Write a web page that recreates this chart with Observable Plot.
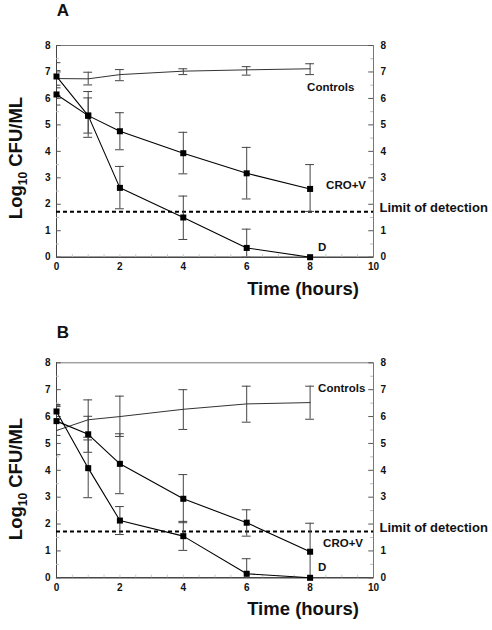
<!DOCTYPE html>
<html><head><meta charset="utf-8">
<script src="https://cdn.jsdelivr.net/npm/d3@7"></script>
<script src="https://cdn.jsdelivr.net/npm/@observablehq/plot@0.6"></script>
<style>body{margin:0;background:#fff;} svg{display:block}</style>
</head><body><div id="chart"></div>
<script>
// ---- data ----
const hours = [0, 1, 2, 4, 6, 8];
const xTicks = [0, 2, 4, 6, 8, 10];
const yTicks = [0, 1, 2, 3, 4, 5, 6, 7, 8];
const yTicksRight = [0, 1, 3, 4, 5, 6, 7, 8]; // "2" is covered by the limit label
const detectionLimit = 1.72;
const seriesNames = ["Controls", "CRO+V", "D"];

// Panel A
const ctrlA   = [6.75, 6.74, 6.90, 7.03, 7.08, 7.12];
const ctrlAhi = [7.35, 6.99, 7.09, 7.12, 7.20, 7.31];
const ctrlAlo = [6.10, 6.51, 6.67, 6.90, 6.88, 6.90];
const croA    = [6.15, 5.35, 4.76, 3.93, 3.17, 2.58];
const croAhi  = [6.40, 6.26, 5.46, 4.72, 4.15, 3.50];
const croAlo  = [5.75, 4.53, 4.06, 3.15, 2.20, 1.73];
const dA      = [6.83, 5.35, 2.62, 1.50, 0.35, 0];
const dAhi    = [7.05, 6.02, 3.43, 2.31, 1.06, 0];
const dAlo    = [6.50, 4.69, 1.83, 0.67, 0, 0];

// Panel B
const ctrlB   = [5.48, 5.88, 6.00, 6.27, 6.47, 6.52];
const ctrlBhi = [6.40, 6.62, 6.76, 7.00, 7.13, 7.13];
const ctrlBlo = [4.58, 5.13, 5.26, 5.52, 5.79, 5.90];
const croB    = [5.83, 5.34, 4.24, 2.94, 2.05, 0.97];
const croBhi  = [6.37, 6.01, 5.36, 3.84, 2.53, 2.03];
const croBlo  = [5.30, 4.67, 3.13, 2.05, 1.55, 0];
const dB      = [6.19, 4.08, 2.13, 1.55, 0.15, 0];
const dBhi    = [6.45, 5.23, 2.65, 2.10, 0.71, 0];
const dBlo    = [5.90, 2.98, 1.61, 1.02, 0, 0];

// ---- drawing ----
const font = "'Liberation Sans', Arial, Helvetica, sans-serif";
const yMinor = d3.range(0.5, 8, 1);
const xMinor = d3.range(0.5, 10, 0.5);

function makeRows(series, v, hi, lo) {
  return hours.map((t, i) => ({series, t, v: v[i], hi: hi[i], lo: lo[i]}));
}

function panelPlot({height, marginTop, marginBottom, data, labelOffsets}) {
  const treat = data.filter(d => d.series !== "Controls");
  const bars = data.filter(d => d.hi > d.lo);
  const labelMarks = seriesNames.map(sn => {
    const r = data.filter(d => d.series === sn).at(-1);
    return Plot.text([r], {x: "t", y: "v", text: "series", dx: labelOffsets[sn][0], dy: labelOffsets[sn][1], textAnchor: "start", fontSize: 11.5, fill: "#111"});
  });
  return Plot.plot({
    width: 492, height, marginLeft: 56, marginRight: 119, marginTop, marginBottom,
    x: {domain: [0, 10]},
    y: {domain: [0, 8]},
    style: {fontFamily: font, fontWeight: "bold", fontSize: "10px", color: "#111", background: "white", overflow: "visible"},
    marks: [
      Plot.frame({stroke: "#777"}),
      Plot.ruleY([0], {stroke: "#222"}),
      Plot.ruleX([0], {stroke: "#444"}),
      Plot.ruleY(yTicks, {y: d => d, x1: 0, x2: 0.15, stroke: "#555"}),
      Plot.ruleY(yTicks, {y: d => d, x1: 9.85, x2: 10, stroke: "#555"}),
      Plot.ruleY(yMinor, {y: d => d, x1: 0, x2: 0.09, stroke: "#bbb"}),
      Plot.ruleY(yMinor, {y: d => d, x1: 9.91, x2: 10, stroke: "#bbb"}),
      Plot.ruleX(xMinor, {x: d => d, y1: 0, y2: 0.1, stroke: "#ccc"}),
      Plot.axisY({anchor: "left", ticks: yTicks, tickSize: 0, tickPadding: 6, label: null, tickFormat: d => d}),
      Plot.axisY({anchor: "right", ticks: yTicksRight, tickSize: 0, tickPadding: 7, label: null, tickFormat: d => d}),
      Plot.axisX({anchor: "bottom", ticks: xTicks, tickSize: 0, tickPadding: 6, label: null, tickFormat: d => d}),
      Plot.ruleY([detectionLimit], {y: d => d, stroke: "#000", strokeWidth: 2, strokeDasharray: "4,3"}),
      Plot.text([detectionLimit], {y: d => d, x: 10, text: () => "Limit of detection", textAnchor: "start", dx: 6, dy: -4, fontSize: 13, fill: "#111"}),
      Plot.ruleX(bars, {x: "t", y1: "lo", y2: "hi", stroke: "#444", clip: true}),
      Plot.ruleY(bars, {y: "hi", x1: d => d.t - 0.14, x2: d => d.t + 0.14, stroke: "#444", clip: true}),
      Plot.ruleY(bars, {y: "lo", x1: d => d.t - 0.14, x2: d => d.t + 0.14, stroke: "#444", clip: true}),
      Plot.line(data.filter(d => d.series === "Controls"), {x: "t", y: "v", stroke: "#333", strokeWidth: 1}),
      Plot.line(treat, {x: "t", y: "v", z: "series", stroke: "#000", strokeWidth: 1.1}),
      Plot.dot(treat, {x: "t", y: "v", symbol: "square", r: 3.4, fill: "#000", stroke: "none"}),
      ...labelMarks,
      Plot.text(["Time (hours)"], {frameAnchor: "bottom", text: d => d, dx: 88, dy: 37.5, fontSize: 18.5, fill: "#111"})
    ]
  });
}

function build(cfg) {
  const svg = panelPlot(cfg);
  const s = d3.select(svg);
  const t = s.append("text")
    .attr("transform", `translate(22,${cfg.yLabelY}) rotate(-90)`)
    .attr("text-anchor", "middle")
    .attr("font-family", font).attr("font-weight", "bold")
    .attr("font-size", 18.5).attr("fill", "#111");
  t.append("tspan").text("Log");
  t.append("tspan").attr("font-size", 12).attr("dy", 5).text("10");
  t.append("tspan").attr("dy", -5).text(" CFU/ML");
  s.append("text").attr("x", 63).attr("y", cfg.letterY)
    .attr("font-family", font).attr("font-weight", "bold").attr("font-size", 17).attr("fill", "#111")
    .text(cfg.letter);
  return svg;
}

const dataA = [
  ...makeRows("Controls", ctrlA, ctrlAhi, ctrlAlo),
  ...makeRows("CRO+V", croA, croAhi, croAlo),
  ...makeRows("D", dA, dAhi, dAlo)
];
const dataB = [
  ...makeRows("Controls", ctrlB, ctrlBhi, ctrlBlo),
  ...makeRows("CRO+V", croB, croBhi, croBlo),
  ...makeRows("D", dB, dBhi, dBlo)
];

const chart = document.getElementById("chart");
chart.append(build({
  letter: "A", height: 310, marginTop: 45, marginBottom: 53.3, data: dataA,
  labelOffsets: {"Controls": [-3, 19], "CRO+V": [16, -4], "D": [8, -10]},
  yLabelY: 158, letterY: 16
}));
chart.append(build({
  letter: "B", height: 320, marginTop: 52.3, marginBottom: 52.7, data: dataB,
  labelOffsets: {"Controls": [8, -14], "CRO+V": [13, -8], "D": [8, -10]},
  yLabelY: 169, letterY: 28
}));
</script>
</body></html>
